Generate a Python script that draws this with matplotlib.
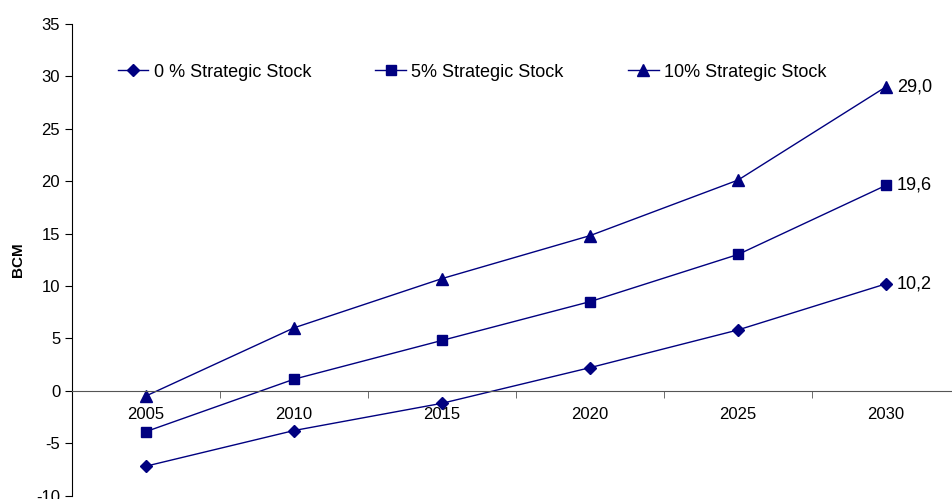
import matplotlib
matplotlib.use('Agg')
import matplotlib.pyplot as plt
from matplotlib.ticker import FixedLocator

plt.rcParams['font.family'] = ['Liberation Sans', 'DejaVu Sans']
plt.rcParams['axes.unicode_minus'] = False

years = ['2005', '2010', '2015', '2020', '2025', '2030']
stock_0 = [-7.2, -3.8, -1.2, 2.2, 5.8, 10.2]
stock_5 = [-3.9, 1.1, 4.8, 8.5, 13.0, 19.6]
stock_10 = [-0.5, 6.0, 10.7, 14.8, 20.1, 29.0]
end_labels = ['10,2', '19,6', '29,0']

navy = '#000080'

fig = plt.figure(figsize=(9.53, 4.99), dpi=100)
ax = fig.add_axes([72 / 953, 0.007, 888 / 953, 0.945])

x = list(range(len(years)))
ax.plot(x, stock_0, color=navy, lw=1.0, marker='D', ms=6, label='0 % Strategic Stock')
ax.plot(x, stock_5, color=navy, lw=1.0, marker='s', ms=7, label='5% Strategic Stock')
ax.plot(x, stock_10, color=navy, lw=1.0, marker='^', ms=8, label='10% Strategic Stock')

# value labels on last point
for series, lab in zip([stock_0, stock_5, stock_10], end_labels):
    ax.annotate(lab, (x[-1], series[-1]), xytext=(8, 0), textcoords='offset points',
                va='center', ha='left', fontsize=13)

ax.set_xlim(-0.5, 5.5)
ax.set_ylim(-10, 35)
ax.set_yticks(range(-10, 36, 5))

# x axis sits at zero like Excel
ax.spines['top'].set_visible(False)
ax.spines['right'].set_visible(False)
ax.spines['bottom'].set_position(('data', 0))
ax.spines['bottom'].set_color('#555555')
ax.set_xticks(x)
ax.set_xticklabels(years)
ax.xaxis.set_minor_locator(FixedLocator([i + 0.5 for i in range(-1, 6)]))
ax.tick_params(axis='x', which='major', length=0, pad=12, labelsize=12)
ax.tick_params(axis='x', which='minor', length=5, color='#555555', direction='out')
ax.tick_params(axis='y', length=5, direction='out', labelsize=12)

ax.set_ylabel('BCM', fontsize=11, fontweight='bold', labelpad=8)

ax.legend(loc='upper left', bbox_to_anchor=(0.033, 0.95), ncol=3, frameon=False,
          fontsize=13, columnspacing=3.55, handlelength=1.7, handletextpad=0.3)

fig.savefig('out.png', dpi=100)
